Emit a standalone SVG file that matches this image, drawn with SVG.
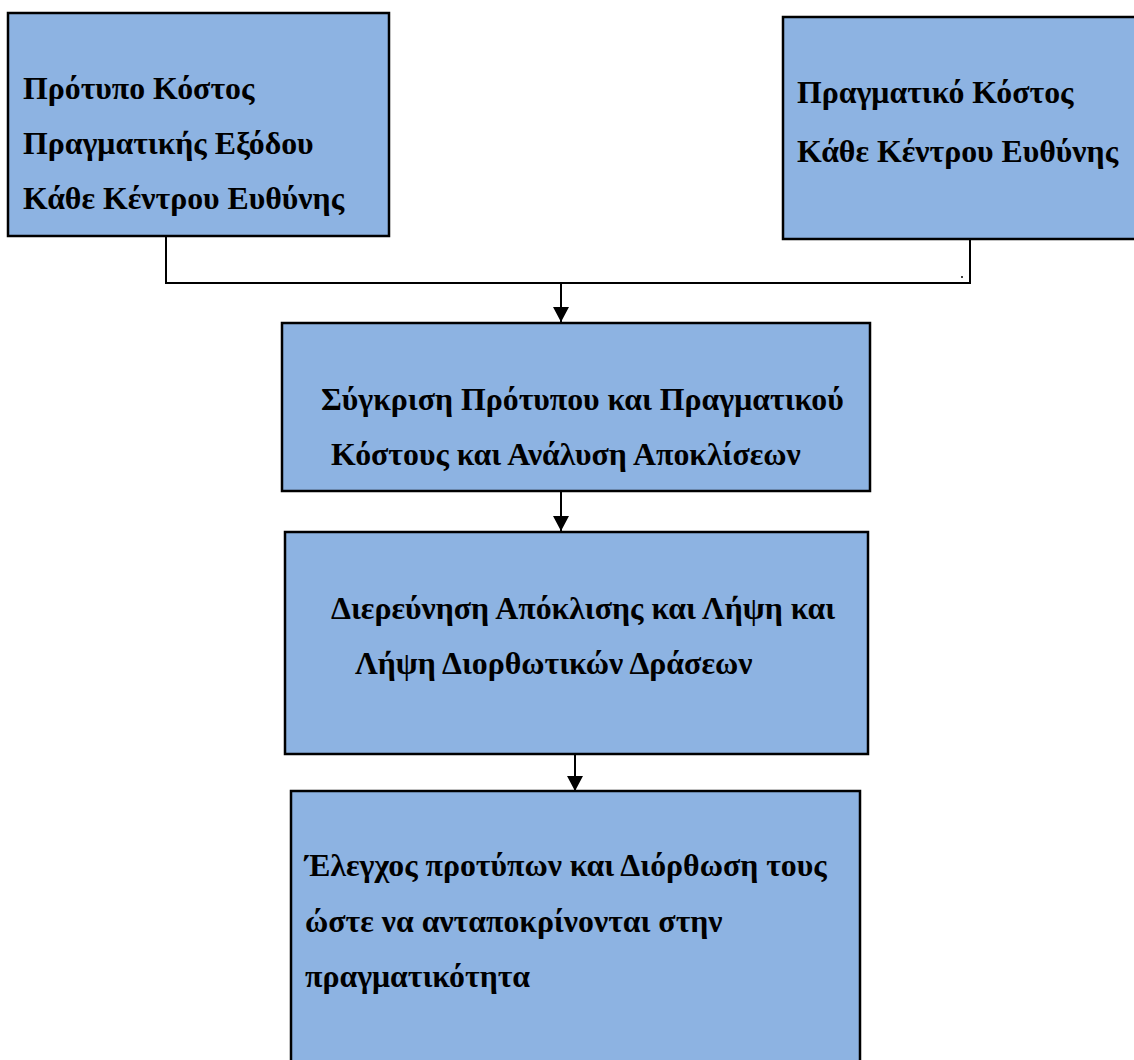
<svg xmlns="http://www.w3.org/2000/svg" width="1134" height="1060" viewBox="0 0 1134 1060">
<style>
.box{fill:#8db3e2;stroke:#000;stroke-width:2.5}
.t{font-family:"Liberation Serif","Times New Roman",serif;font-weight:bold;font-size:31.8px;fill:#000}
.c{fill:none;stroke:#000;stroke-width:2}
</style>
<defs>
<marker id="ah" markerUnits="userSpaceOnUse" markerWidth="16" markerHeight="16" refX="15" refY="8" orient="auto">
<path d="M0,0 L15,8 L0,16 Z" fill="#000"/>
</marker>
</defs>
<rect width="1134" height="1060" fill="#fff"/>
<g id="connectors">
<path class="c" d="M166,230 V283 H970 V240"/>
<path class="c" d="M561,283 V322" marker-end="url(#ah)"/>
<path class="c" d="M561,491 V531" marker-end="url(#ah)"/>
<path class="c" d="M575,748 V791" marker-end="url(#ah)"/>
<circle cx="962" cy="277" r="1" fill="#000"/>
</g>
<g id="n1">
<rect class="box" x="8" y="13" width="381" height="223"/>
<text class="t" x="23" y="99">Πρότυπο Κόστος</text>
<text class="t" x="23" y="154">Πραγματικής Εξόδου</text>
<text class="t" x="23" y="209">Κάθε Κέντρου Ευθύνης</text>
</g>
<g id="n2">
<rect class="box" x="783" y="17" width="360" height="222"/>
<text class="t" x="797" y="103">Πραγματικό Κόστος</text>
<text class="t" x="797" y="162">Κάθε Κέντρου Ευθύνης</text>
</g>
<g id="n3">
<rect class="box" x="282" y="323" width="588" height="168"/>
<text class="t" x="321" y="410">Σύγκριση Πρότυπου και Πραγματικού</text>
<text class="t" x="331" y="465">Κόστους και Ανάλυση Αποκλίσεων</text>
</g>
<g id="n4">
<rect class="box" x="285" y="532" width="583" height="222"/>
<text class="t" x="331" y="619">Διερεύνηση Απόκλισης και Λήψη και</text>
<text class="t" x="355" y="674">Λήψη Διορθωτικών Δράσεων</text>
</g>
<g id="n5">
<rect class="box" x="291" y="791" width="569" height="290"/>
<text class="t" x="305" y="876">Έλεγχος προτύπων και Διόρθωση τους</text>
<text class="t" x="305" y="932">ώστε να ανταποκρίνονται στην</text>
<text class="t" x="305" y="987">πραγματικότητα</text>
</g>
</svg>
